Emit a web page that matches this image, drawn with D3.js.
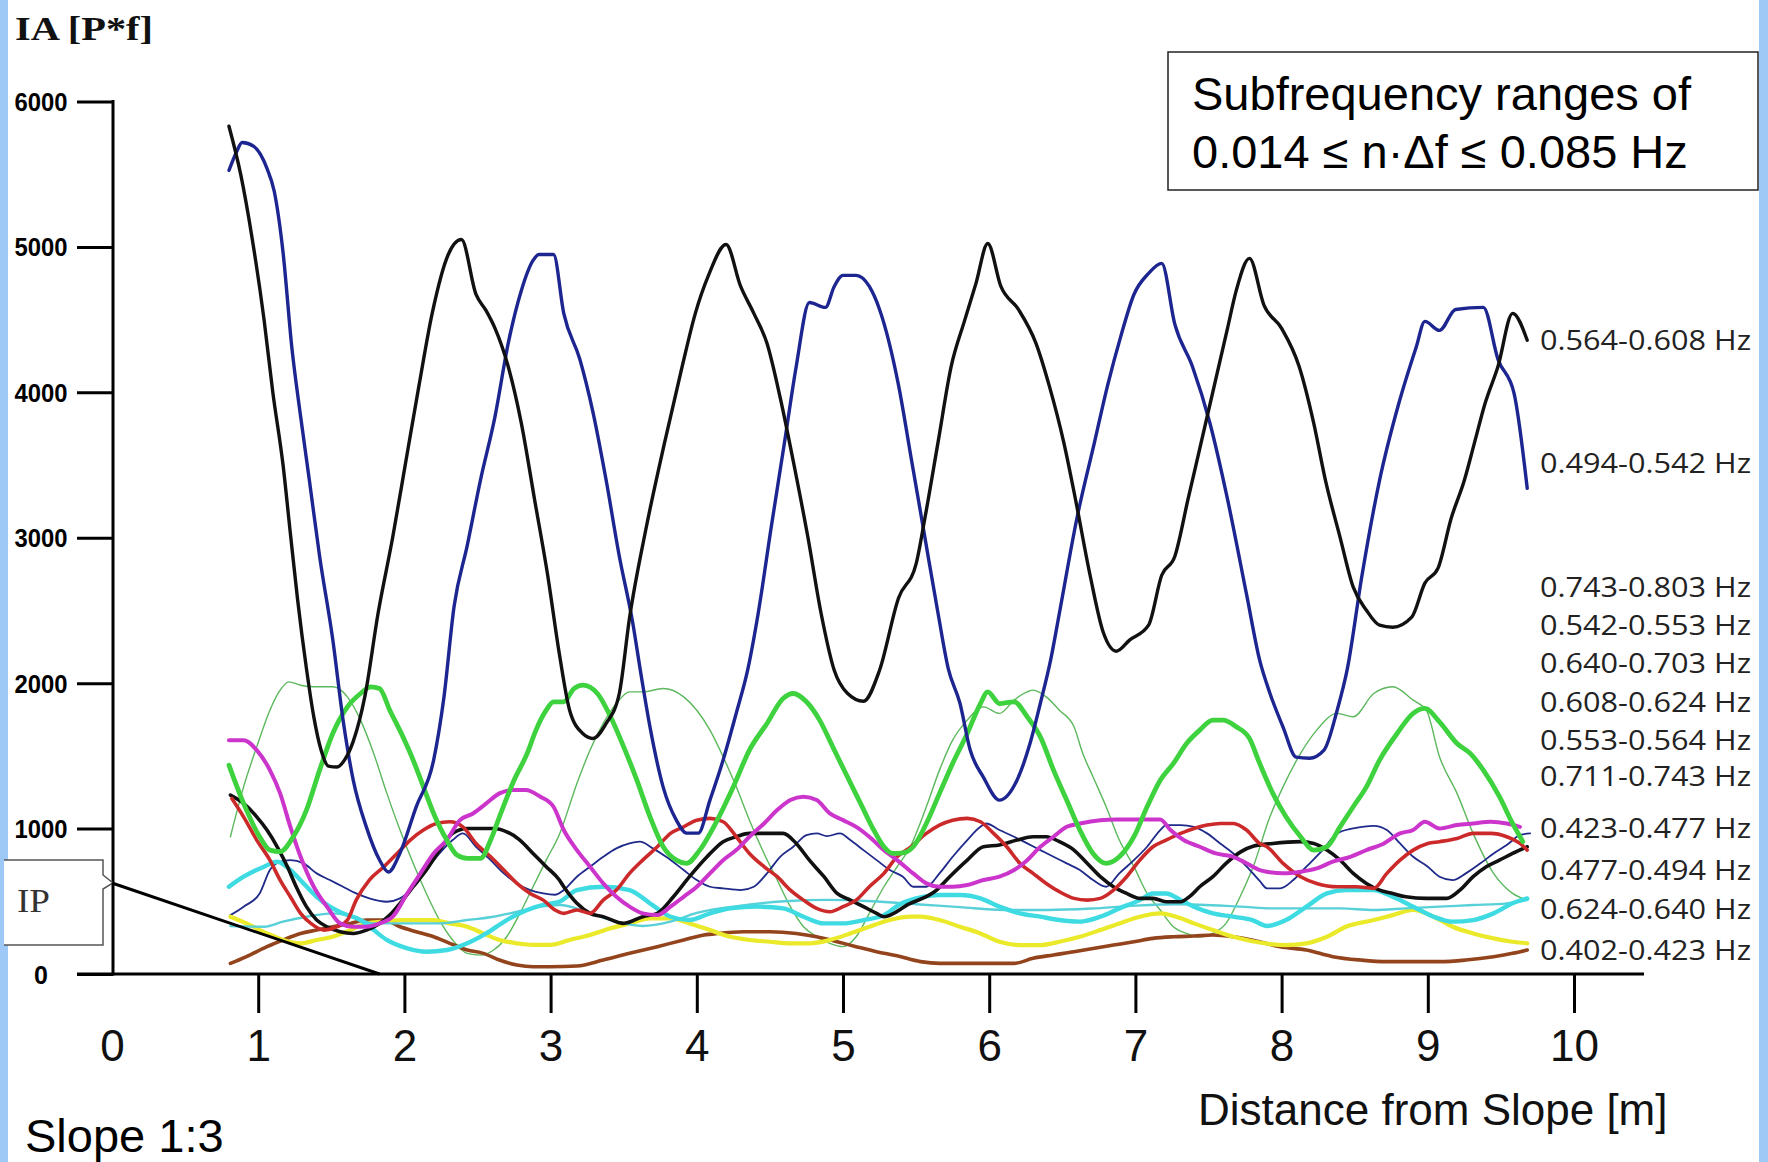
<!DOCTYPE html>
<html>
<head>
<meta charset="utf-8">
<script src="https://cdn.jsdelivr.net/npm/d3@7"></script>
<style>
  body { margin: 0; background: #fff; }
  svg { display: block; }
</style>
</head>
<body>
<div id="chart"></div>
<script>
// ---- data: [distance m, IA] ----
const xTicks = [0, 1, 2, 3, 4, 5, 6, 7, 8, 9, 10];
const yTicks = [0, 1000, 2000, 3000, 4000, 5000, 6000];

const black564 = [[0.80,5830],[0.88,5500],[0.96,5050],[1.04,4500],[1.10,4000],[1.17,3500],[1.22,3030],[1.27,2570],[1.33,2100],[1.38,1770],[1.43,1540],[1.48,1430],[1.54,1424],[1.59,1471],[1.65,1600],[1.73,1911],[1.82,2481],[1.92,3003],[2.01,3526],[2.10,4048],[2.19,4543],[2.30,4948],[2.39,5051],[2.49,4673],[2.56,4560],[2.62,4440],[2.71,4178],[2.80,3787],[2.89,3265],[2.98,2742],[3.06,2200],[3.13,1814],[3.22,1654],[3.29,1620],[3.38,1723],[3.47,1929],[3.54,2450],[3.65,3050],[3.78,3656],[3.90,4178],[3.99,4543],[4.08,4804],[4.20,5017],[4.30,4728],[4.39,4543],[4.48,4337],[4.57,3965],[4.66,3526],[4.76,3003],[4.85,2481],[4.94,2089],[5.03,1931],[5.14,1876],[5.25,2089],[5.38,2586],[5.50,2820],[5.56,3134],[5.65,3656],[5.74,4178],[5.83,4488],[5.91,4751],[5.99,5024],[6.08,4728],[6.20,4570],[6.32,4337],[6.41,4048],[6.51,3656],[6.59,3265],[6.69,2742],[6.78,2350],[6.87,2220],[6.96,2296],[7.09,2399],[7.18,2742],[7.27,2873],[7.36,3265],[7.45,3656],[7.54,4048],[7.63,4440],[7.69,4701],[7.78,4921],[7.88,4598],[8.00,4440],[8.12,4178],[8.22,3787],[8.30,3395],[8.40,3003],[8.49,2660],[8.58,2502],[8.67,2399],[8.76,2385],[8.89,2454],[8.98,2688],[9.07,2791],[9.16,3134],[9.25,3395],[9.32,3656],[9.39,3918],[9.48,4178],[9.58,4543],[9.68,4358]];

const navy494 = [[0.80,5526],[0.85,5650],[0.89,5718],[0.97,5691],[1.06,5540],[1.11,5381],[1.17,4962],[1.23,4309],[1.29,3835],[1.35,3395],[1.42,2873],[1.51,2300],[1.58,1750],[1.65,1333],[1.74,1010],[1.83,784],[1.89,701],[1.97,832],[2.08,1148],[2.20,1471],[2.27,1900],[2.34,2529],[2.43,2948],[2.52,3395],[2.62,3835],[2.71,4337],[2.80,4701],[2.88,4907],[2.92,4948],[3.02,4948],[3.09,4543],[3.20,4227],[3.29,3862],[3.38,3395],[3.47,2873],[3.56,2426],[3.62,2050],[3.68,1698],[3.77,1285],[3.86,1058],[3.93,969],[4.01,969],[4.09,1196],[4.18,1471],[4.27,1794],[4.35,2100],[4.42,2481],[4.51,3079],[4.60,3656],[4.68,4178],[4.77,4618],[4.88,4584],[4.94,4728],[5.00,4804],[5.09,4804],[5.18,4728],[5.25,4570],[5.38,4048],[5.47,3526],[5.56,3003],[5.65,2481],[5.72,2100],[5.80,1862],[5.87,1540],[5.96,1354],[6.07,1196],[6.19,1333],[6.28,1588],[6.35,1862],[6.42,2158],[6.48,2481],[6.60,3134],[6.72,3656],[6.81,4048],[6.90,4385],[6.99,4673],[7.09,4818],[7.18,4887],[7.27,4467],[7.39,4178],[7.51,3787],[7.63,3265],[7.76,2612],[7.85,2158],[7.92,1931],[8.01,1698],[8.10,1491],[8.19,1484],[8.29,1540],[8.38,1814],[8.45,2100],[8.55,2742],[8.67,3395],[8.80,3918],[8.92,4309],[8.98,4488],[9.08,4426],[9.19,4570],[9.38,4584],[9.48,4227],[9.59,3993],[9.68,3340]];

const greenThick = [[0.80,1436],[0.90,1173],[1.01,944],[1.08,852],[1.15,841],[1.24,944],[1.33,1127],[1.42,1402],[1.51,1654],[1.61,1837],[1.70,1929],[1.77,1975],[1.83,1963],[1.90,1814],[1.99,1631],[2.06,1471],[2.13,1287],[2.20,1104],[2.29,921],[2.36,818],[2.43,795],[2.52,795],[2.59,921],[2.65,1081],[2.75,1333],[2.84,1517],[2.90,1677],[2.97,1814],[3.02,1872],[3.09,1872],[3.16,1963],[3.22,1986],[3.32,1929],[3.41,1769],[3.50,1562],[3.59,1333],[3.68,1081],[3.77,875],[3.86,783],[3.93,761],[4.02,852],[4.14,1058],[4.25,1287],[4.36,1540],[4.48,1723],[4.59,1895],[4.66,1929],[4.75,1872],[4.84,1746],[4.93,1562],[5.03,1356],[5.12,1173],[5.21,990],[5.28,875],[5.34,829],[5.42,835],[5.48,875],[5.57,1035],[5.66,1242],[5.75,1448],[5.85,1654],[5.94,1860],[5.99,1940],[6.07,1860],[6.17,1872],[6.26,1769],[6.35,1631],[6.44,1402],[6.53,1196],[6.62,990],[6.71,829],[6.80,761],[6.89,806],[6.99,944],[7.08,1150],[7.17,1333],[7.26,1448],[7.35,1585],[7.44,1677],[7.53,1746],[7.60,1746],[7.69,1700],[7.78,1620],[7.85,1448],[7.94,1242],[8.03,1081],[8.13,944],[8.22,852],[8.31,875],[8.40,1012],[8.49,1150],[8.58,1287],[8.67,1471],[8.79,1654],[8.90,1792],[8.98,1826],[9.08,1734],[9.20,1585],[9.29,1517],[9.38,1402],[9.49,1219],[9.58,1035],[9.65,910]];

const greenThin = [[0.81,944],[0.90,1287],[0.99,1562],[1.08,1814],[1.15,1952],[1.21,2009],[1.29,1986],[1.38,1975],[1.51,1975],[1.61,1906],[1.70,1746],[1.79,1517],[1.88,1242],[1.97,990],[2.06,761],[2.15,554],[2.24,371],[2.33,234],[2.43,142],[2.52,130],[2.61,165],[2.70,256],[2.79,417],[2.88,600],[2.97,783],[3.06,960],[3.18,1310],[3.27,1540],[3.36,1723],[3.45,1860],[3.54,1940],[3.63,1940],[3.77,1963],[3.91,1906],[4.00,1814],[4.09,1677],[4.18,1494],[4.27,1287],[4.36,1058],[4.46,829],[4.55,646],[4.64,463],[4.73,325],[4.82,257],[4.91,211],[5.00,188],[5.09,256],[5.18,417],[5.28,600],[5.37,737],[5.46,875],[5.57,1150],[5.66,1402],[5.75,1608],[5.85,1746],[5.96,1837],[6.07,1792],[6.17,1883],[6.26,1940],[6.30,1952],[6.39,1906],[6.48,1814],[6.58,1700],[6.64,1517],[6.71,1356],[6.80,1150],[6.89,921],[6.99,738],[7.08,554],[7.17,440],[7.26,325],[7.35,279],[7.44,256],[7.53,279],[7.62,348],[7.72,540],[7.81,750],[7.92,1081],[8.01,1287],[8.13,1517],[8.24,1677],[8.38,1792],[8.49,1769],[8.63,1929],[8.76,1975],[8.90,1883],[8.99,1814],[9.08,1494],[9.20,1242],[9.31,967],[9.45,692],[9.58,554],[9.68,508]];

const magenta = [[0.80,1608],[0.90,1608],[0.99,1540],[1.08,1402],[1.15,1242],[1.22,1012],[1.29,806],[1.38,600],[1.47,463],[1.56,348],[1.65,325],[1.74,325],[1.83,348],[1.92,394],[2.02,554],[2.11,692],[2.20,829],[2.29,921],[2.38,1058],[2.47,1104],[2.56,1173],[2.65,1242],[2.74,1265],[2.83,1265],[2.93,1219],[3.02,1150],[3.09,990],[3.18,852],[3.27,738],[3.36,623],[3.45,531],[3.54,463],[3.63,417],[3.73,405],[3.82,463],[3.91,531],[4.00,600],[4.09,692],[4.18,783],[4.27,852],[4.36,944],[4.46,1035],[4.55,1127],[4.64,1196],[4.73,1219],[4.82,1196],[4.91,1104],[5.00,1058],[5.09,1012],[5.18,944],[5.28,852],[5.37,783],[5.48,692],[5.57,623],[5.66,600],[5.75,600],[5.85,612],[5.96,646],[6.07,669],[6.17,715],[6.26,783],[6.35,875],[6.44,944],[6.53,1012],[6.62,1035],[6.76,1058],[6.87,1063],[6.99,1063],[7.17,1063],[7.24,990],[7.33,921],[7.44,875],[7.55,829],[7.67,806],[7.76,761],[7.85,715],[7.90,703],[8.01,692],[8.13,703],[8.24,726],[8.35,772],[8.47,806],[8.58,852],[8.70,898],[8.81,967],[8.90,990],[8.98,1047],[9.08,1001],[9.20,1024],[9.31,1035],[9.43,1047],[9.54,1035],[9.63,1012]];

const red = [[0.82,1207],[0.90,1081],[0.99,921],[1.08,783],[1.15,646],[1.22,531],[1.29,417],[1.36,348],[1.45,302],[1.54,325],[1.61,371],[1.67,508],[1.76,646],[1.86,738],[1.95,829],[2.04,921],[2.13,990],[2.22,1035],[2.31,1047],[2.40,1012],[2.49,898],[2.59,806],[2.68,715],[2.77,623],[2.86,554],[2.95,508],[3.03,440],[3.09,417],[3.18,440],[3.27,417],[3.36,508],[3.45,577],[3.54,692],[3.63,783],[3.73,875],[3.82,967],[3.91,1012],[4.00,1058],[4.09,1070],[4.18,1047],[4.27,944],[4.36,829],[4.46,738],[4.55,669],[4.64,577],[4.73,508],[4.82,451],[4.91,428],[5.00,463],[5.09,508],[5.18,600],[5.28,692],[5.37,806],[5.46,870],[5.57,967],[5.66,1024],[5.75,1058],[5.85,1070],[5.94,1047],[6.03,967],[6.12,875],[6.21,761],[6.30,692],[6.39,623],[6.48,566],[6.58,520],[6.67,508],[6.76,520],[6.85,577],[6.94,669],[7.03,783],[7.12,875],[7.21,921],[7.31,967],[7.40,1001],[7.49,1024],[7.58,1035],[7.67,1035],[7.76,990],[7.85,898],[7.90,875],[8.01,761],[8.13,669],[8.24,623],[8.38,600],[8.51,600],[8.63,589],[8.72,692],[8.81,783],[8.90,852],[9.00,898],[9.08,910],[9.20,932],[9.31,967],[9.43,967],[9.54,944],[9.63,898],[9.68,852]];

const blackLow = [[0.81,1230],[0.90,1173],[0.99,1081],[1.06,990],[1.13,875],[1.20,738],[1.26,600],[1.33,463],[1.40,371],[1.47,325],[1.56,291],[1.65,279],[1.74,302],[1.83,348],[1.90,405],[1.97,486],[2.06,600],[2.15,715],[2.24,852],[2.33,967],[2.43,1001],[2.52,1001],[2.61,1001],[2.70,978],[2.79,921],[2.88,829],[2.97,738],[3.06,646],[3.09,600],[3.18,486],[3.27,417],[3.36,394],[3.50,348],[3.63,394],[3.73,417],[3.84,531],[3.95,669],[4.07,806],[4.18,910],[4.27,944],[4.36,967],[4.46,967],[4.59,967],[4.68,898],[4.77,783],[4.87,669],[4.96,554],[5.05,508],[5.14,463],[5.23,417],[5.28,394],[5.45,480],[5.64,577],[5.73,669],[5.85,783],[5.96,875],[6.07,887],[6.19,921],[6.30,944],[6.39,944],[6.48,910],[6.58,852],[6.67,761],[6.76,669],[6.85,600],[6.94,554],[7.03,520],[7.12,520],[7.21,497],[7.31,497],[7.37,532],[7.44,600],[7.53,669],[7.62,761],[7.72,840],[7.81,880],[7.94,898],[8.13,910],[8.22,898],[8.31,852],[8.40,783],[8.49,692],[8.58,623],[8.67,577],[8.76,554],[8.85,531],[8.99,520],[9.13,520],[9.22,577],[9.31,669],[9.40,738],[9.49,783],[9.58,829],[9.68,875]];

const navyThin = [[0.81,405],[0.90,463],[1.01,554],[1.08,715],[1.15,772],[1.22,783],[1.31,761],[1.40,692],[1.49,646],[1.58,600],[1.67,554],[1.76,520],[1.88,497],[1.97,520],[2.06,600],[2.15,715],[2.24,829],[2.33,921],[2.40,967],[2.49,875],[2.59,783],[2.68,692],[2.77,623],[2.86,577],[2.95,554],[3.03,545],[3.09,577],[3.18,669],[3.27,738],[3.36,806],[3.45,864],[3.54,898],[3.61,910],[3.70,864],[3.79,806],[3.91,715],[4.00,646],[4.09,600],[4.18,589],[4.30,577],[4.39,600],[4.48,692],[4.57,806],[4.66,875],[4.75,955],[4.82,967],[4.89,948],[4.98,967],[5.05,921],[5.14,852],[5.23,783],[5.32,715],[5.41,669],[5.48,600],[5.57,600],[5.66,692],[5.75,806],[5.85,921],[5.94,1012],[5.98,1035],[6.07,990],[6.17,944],[6.26,898],[6.35,852],[6.44,806],[6.53,761],[6.62,715],[6.71,646],[6.80,600],[6.89,692],[6.99,783],[7.08,875],[7.17,990],[7.21,1024],[7.31,1024],[7.40,1012],[7.49,967],[7.58,898],[7.67,829],[7.76,740],[7.85,640],[7.90,589],[7.99,589],[8.08,646],[8.17,738],[8.28,852],[8.38,967],[8.49,1001],[8.63,1019],[8.72,990],[8.81,898],[8.90,806],[9.00,738],[9.08,669],[9.17,646],[9.26,692],[9.36,761],[9.45,829],[9.54,887],[9.63,955],[9.70,967]];

const cyanThick = [[0.80,600],[0.90,669],[1.04,738],[1.13,772],[1.22,715],[1.31,623],[1.40,531],[1.49,463],[1.58,417],[1.70,371],[1.79,302],[1.88,234],[2.02,176],[2.15,153],[2.29,165],[2.43,211],[2.56,279],[2.70,371],[2.84,440],[2.97,480],[3.06,497],[3.18,577],[3.36,600],[3.54,577],[3.68,486],[3.82,394],[3.95,371],[4.09,417],[4.23,451],[4.41,463],[4.59,451],[4.73,394],[4.87,348],[5.00,348],[5.14,371],[5.28,405],[5.39,480],[5.53,527],[5.66,543],[5.80,543],[5.94,520],[6.07,463],[6.21,417],[6.35,394],[6.48,371],[6.62,360],[6.76,394],[6.89,451],[7.03,508],[7.12,554],[7.21,554],[7.31,508],[7.40,463],[7.53,417],[7.67,394],[7.80,371],[7.90,330],[8.03,371],[8.17,463],[8.31,554],[8.44,577],[8.63,577],[8.76,531],[8.90,463],[9.04,394],[9.17,360],[9.31,371],[9.45,417],[9.58,486],[9.68,520]];

const cyanThin = [[0.81,330],[1.04,325],[1.17,360],[1.33,394],[1.51,417],[1.65,394],[1.79,348],[1.92,348],[2.08,348],[2.24,348],[2.43,371],[2.61,394],[2.77,428],[2.93,463],[3.06,474],[3.27,420],[3.45,360],[3.63,330],[3.82,360],[4.00,420],[4.30,470],[4.60,500],[4.90,510],[5.20,500],[5.50,480],[5.80,460],[6.10,440],[6.40,440],[6.70,450],[7.00,470],[7.30,480],[7.72,463],[7.94,451],[8.17,451],[8.40,451],[8.63,440],[8.85,451],[9.08,463],[9.31,474],[9.54,486],[9.68,508]];

const yellow = [[0.81,394],[0.92,348],[1.06,279],[1.17,234],[1.29,211],[1.40,234],[1.51,256],[1.63,302],[1.74,348],[1.86,360],[1.97,371],[2.08,371],[2.20,371],[2.31,348],[2.43,325],[2.54,279],[2.65,234],[2.77,211],[2.88,200],[3.00,200],[3.13,234],[3.27,268],[3.41,314],[3.54,348],[3.68,382],[3.82,382],[3.95,348],[4.09,302],[4.23,256],[4.36,234],[4.50,222],[4.64,211],[4.77,211],[4.91,234],[5.05,279],[5.18,325],[5.32,371],[5.46,394],[5.53,394],[5.66,371],[5.80,325],[5.94,279],[6.07,222],[6.21,199],[6.35,199],[6.48,222],[6.62,256],[6.76,302],[6.89,348],[7.03,394],[7.17,417],[7.28,394],[7.40,348],[7.53,302],[7.67,256],[7.80,225],[8.03,199],[8.17,211],[8.31,256],[8.44,325],[8.63,371],[8.76,405],[8.90,440],[9.04,394],[9.17,325],[9.31,279],[9.45,245],[9.58,222],[9.68,211]];

const brown = [[0.81,73],[0.92,119],[1.06,188],[1.17,234],[1.29,279],[1.40,302],[1.51,325],[1.63,348],[1.74,371],[1.86,371],[1.97,325],[2.08,291],[2.20,256],[2.31,211],[2.43,165],[2.54,142],[2.65,96],[2.77,62],[2.88,50],[3.00,50],[3.18,55],[3.36,96],[3.54,142],[3.73,188],[3.91,234],[4.05,268],[4.14,279],[4.32,291],[4.50,291],[4.68,279],[4.82,256],[4.96,222],[5.09,188],[5.23,153],[5.37,125],[5.53,85],[5.66,73],[5.85,73],[6.03,73],[6.17,73],[6.30,108],[6.44,131],[6.58,153],[6.71,176],[6.85,199],[6.99,222],[7.12,245],[7.26,256],[7.40,261],[7.53,268],[7.67,256],[7.85,222],[7.99,188],[8.17,165],[8.35,119],[8.54,96],[8.72,85],[8.90,85],[9.08,85],[9.26,96],[9.45,119],[9.58,142],[9.68,165]];

// IP marker line from the y axis down to the x axis
const slopeLine = [[0, 626], [1.83, 0]];

// right-hand labels and the IA level each one sits at
const legendLabels = ["0.564-0.608 Hz", "0.494-0.542 Hz", "0.743-0.803 Hz", "0.542-0.553 Hz", "0.640-0.703 Hz", "0.608-0.624 Hz", "0.553-0.564 Hz", "0.711-0.743 Hz", "0.423-0.477 Hz", "0.477-0.494 Hz", "0.624-0.640 Hz", "0.402-0.423 Hz"];
const legendAt = [4360, 3513, 2660, 2400, 2138, 1870, 1609, 1362, 1004, 715, 447, 165];

// ---- drawing ----
const W = 1768, H = 1162;
const svg = d3.select("#chart").append("svg").attr("width", W).attr("height", H);

const x = d3.scaleLinear().domain([0, 10]).range([112, 1574]);
const y = d3.scaleLinear().domain([0, 6000]).range([974, 101.5]);

svg.append("rect").attr("width", W).attr("height", H).attr("fill", "#fff");
// light blue frame strips at both sides
svg.append("rect").attr("x", 0).attr("y", 0).attr("width", 8).attr("height", H).attr("fill", "#9ec9f6");
svg.append("rect").attr("x", 1759).attr("y", 0).attr("width", 9).attr("height", H).attr("fill", "#9ec9f6");

// y axis
let yAxis = svg.append("g").attr("transform", `translate(${x(0) + 1},0)`)
    .call(d3.axisLeft(y).tickValues(yTicks).tickSize(36).tickFormat(d3.format("d")));
yAxis.select(".domain").remove();
yAxis.selectAll(".tick line").attr("stroke", "#000").attr("stroke-width", 3);
yAxis.selectAll(".tick text")
    .attr("x", -72).attr("text-anchor", "middle").attr("dy", "0.36em")
    .each(function(d) { if (d > 0) d3.select(this).attr("textLength", 53).attr("lengthAdjust", "spacingAndGlyphs"); })
    .style("font-family", "'Liberation Sans Narrow', 'Liberation Sans', Arial, sans-serif")
    .style("font-weight", "bold").style("font-size", "25px").attr("fill", "#000");

svg.append("line").attr("x1", x(0) + 1).attr("x2", x(0) + 1).attr("y1", y(6000) - 1.5).attr("y2", y(0) + 1.5)
    .attr("stroke", "#000").attr("stroke-width", 3);

// x axis
let xAxis = svg.append("g").attr("transform", `translate(0,${y(0)})`)
    .call(d3.axisBottom(x).tickValues(xTicks).tickSize(39).tickPadding(17).tickFormat(d3.format("d")));
xAxis.select(".domain").remove();
xAxis.selectAll(".tick line").attr("stroke", "#000").attr("stroke-width", 3)
    .filter(d => d === 0).remove();
xAxis.selectAll(".tick text")
    .style("font-family", "'Liberation Sans', Arial, sans-serif")
    .style("font-size", "44px").attr("fill", "#111");

svg.append("line").attr("x1", 77).attr("x2", 1644).attr("y1", y(0)).attr("y2", y(0))
    .attr("stroke", "#000").attr("stroke-width", 3);

// axis titles
svg.append("text").attr("x", 15).attr("y", 40).text("IA [P*f]")
    .attr("textLength", 138).attr("lengthAdjust", "spacingAndGlyphs")
    .style("font-family", "'Liberation Serif', 'Times New Roman', serif")
    .style("font-size", "34px").style("font-weight", "bold").attr("fill", "#111");

svg.append("text").attr("x", 1198).attr("y", 1125).text("Distance from Slope [m]")
    .style("font-family", "'Liberation Sans', Arial, sans-serif")
    .style("font-size", "44px").attr("fill", "#111");

svg.append("text").attr("x", 25).attr("y", 1152).text("Slope 1:3")
    .style("font-family", "'Liberation Sans', Arial, sans-serif")
    .style("font-size", "47px").attr("fill", "#000");

// series
const lines = [
    {data: greenThin, color: "#5cb85c", width: 1.4},
    {data: navyThin, color: "#1f2a8a", width: 1.8},
    {data: brown, color: "#93441c", width: 3.6},
    {data: yellow, color: "#eaea2a", width: 4.2},
    {data: cyanThin, color: "#58d0d8", width: 2.4},
    {data: cyanThick, color: "#3fdbe3", width: 4.4},
    {data: blackLow, color: "#111", width: 3.6},
    {data: red, color: "#cc2a2a", width: 3.6},
    {data: magenta, color: "#cc35cc", width: 4},
    {data: greenThick, color: "#3fd23f", width: 4.8},
    {data: navy494, color: "#1c2590", width: 3.4},
    {data: black564, color: "#111", width: 3.4}
];

const line = d3.line().x(d => x(d[0])).y(d => y(d[1])).curve(d3.curveMonotoneX);

svg.append("g").attr("id", "series").selectAll("path")
    .data(lines).enter().append("path")
    .attr("d", d => line(d.data))
    .attr("fill", "none")
    .attr("stroke", d => d.color)
    .attr("stroke-width", d => d.width)
    .attr("stroke-linejoin", "round")
    .attr("stroke-linecap", "round");

// IP callout and its line to the axis
svg.append("path")
    .attr("d", `M4,860 H103 V875 L${x(0) + 1},${y(slopeLine[0][1])} L103,889 V945 H4`)
    .attr("fill", "#fff").attr("stroke", "#555").attr("stroke-width", 1.5);
svg.append("text").attr("x", 17).attr("y", 912).text("IP")
    .attr("textLength", 33).attr("lengthAdjust", "spacingAndGlyphs")
    .style("font-family", "'Liberation Serif', 'Times New Roman', serif")
    .style("font-size", "33px").attr("fill", "#333");
svg.append("path").attr("d", d3.line().x(d => x(d[0])).y(d => y(d[1]))(slopeLine))
    .attr("stroke", "#000").attr("stroke-width", 3).attr("fill", "none");

// right-hand band labels
svg.append("g").selectAll("text").data(legendLabels).enter().append("text")
    .attr("x", 1540)
    .attr("y", (d, i) => y(legendAt[i]))
    .attr("dy", "0.36em")
    .attr("textLength", 211).attr("lengthAdjust", "spacingAndGlyphs")
    .style("font-family", "'Open Sans', 'Noto Sans', sans-serif")
    .style("font-size", "28px").attr("fill", "#222")
    .text(d => d);

// subfrequency box
svg.append("rect").attr("x", 1168).attr("y", 52).attr("width", 590).attr("height", 138)
    .attr("fill", "#fff").attr("stroke", "#222").attr("stroke-width", 1.5);
svg.append("text").attr("x", 1192).attr("y", 110).text("Subfrequency ranges of")
    .style("font-family", "'Liberation Sans', Arial, sans-serif").style("font-size", "47px").attr("fill", "#000");
svg.append("text").attr("x", 1192).attr("y", 168).text("0.014 \u2264 n\u00B7\u0394f \u2264 0.085 Hz")
    .style("font-family", "'Liberation Sans', Arial, sans-serif").style("font-size", "47px").attr("fill", "#000");
</script>
</body>
</html>
